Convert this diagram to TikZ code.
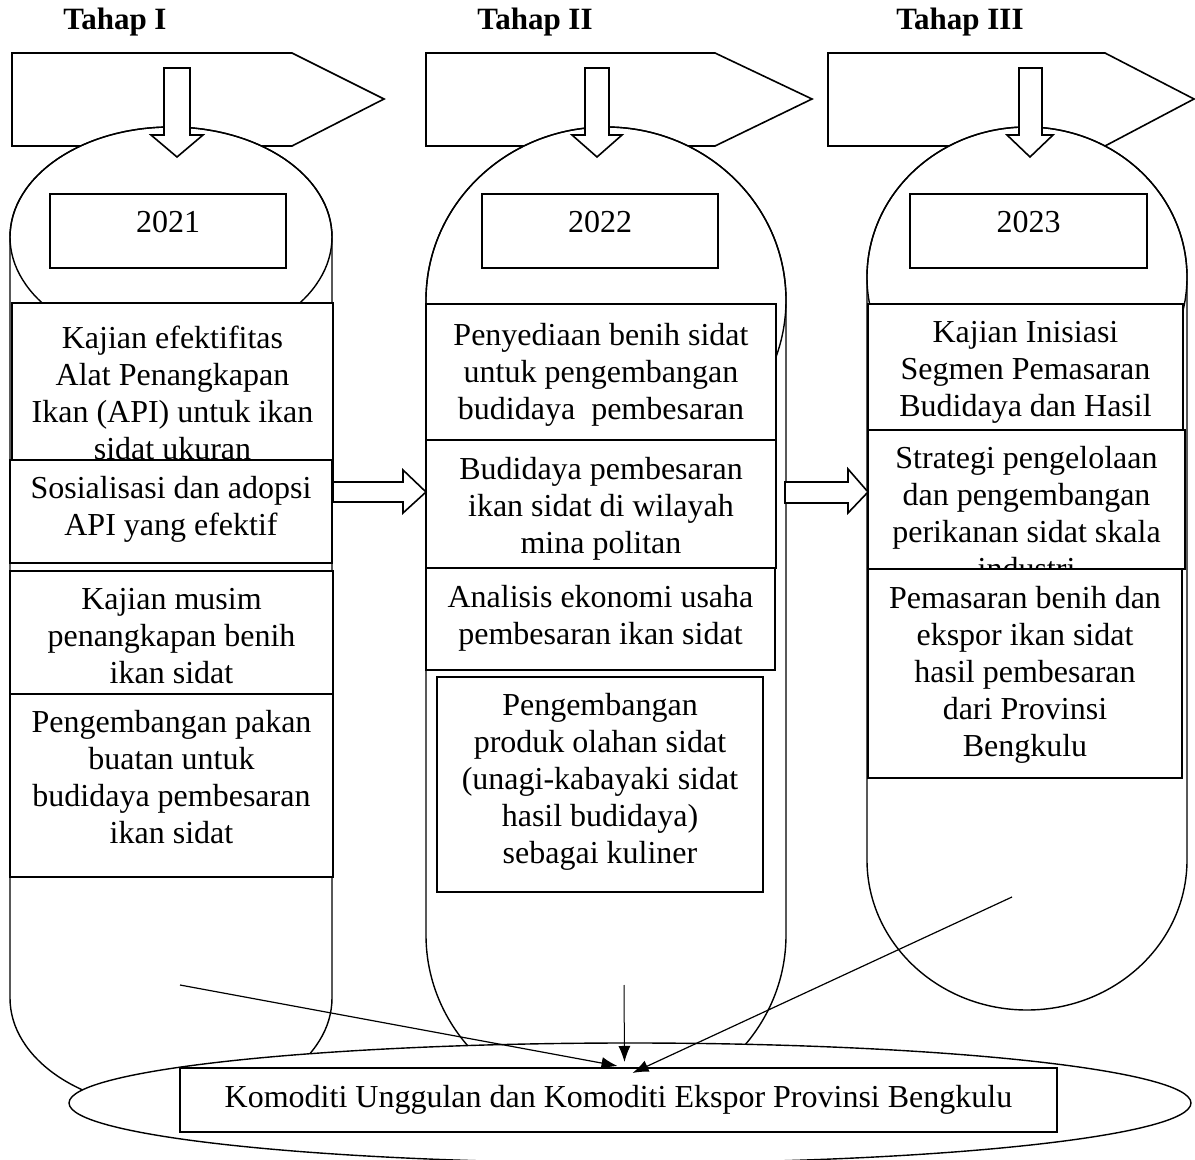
\documentclass[tikz,border=0pt]{standalone}
\usepackage{fontspec}
\setmainfont{Liberation Serif}
\usetikzlibrary{arrows.meta, calc}

\tikzset{
  kotak/.style={draw, fill=white, line width=0.8pt},
  kolom/.style={draw, fill=white, line width=0.7pt},
  isi/.style={align=center, font=\fontsize{16}{18.5}\selectfont},
  judul/.style={font=\fontsize{15.5}{18}\selectfont\bfseries},
  panahblok/.style={draw, fill=white, line width=0.8pt},
  panah/.style={-{Latex[length=8pt,width=6pt]}, line width=0.6pt}
}

\begin{document}
\begin{tikzpicture}[x=0.5pt, y=-0.5pt]
          \useasboundingbox (0,0) rectangle (1195,1160);

          \node[judul] (h1) at (115,22) {Tahap I};
          \node[judul] (h2) at (535,22) {Tahap II};
          \node[judul] (h3) at (960,22) {Tahap III};

          \draw[kotak] (12,53) -- (292,53) -- (384,99) -- (292,146) -- (12,146) -- cycle;
          \draw[kotak] (426,53) -- (715,53) -- (812,99) -- (715,146) -- (426,146) -- cycle;
          \draw[kotak] (828,53) -- (1105,53) -- (1194,99) -- (1105,146) -- (828,146) -- cycle;

          % kolom tahap
          \draw[kolom] (10,237) arc[start angle=180, end angle=360, x radius=161, y radius=110]
            -- (332,998) arc[start angle=0, end angle=180, x radius=161, y radius=110] -- cycle;
          \draw[kolom, fill=none] (171,237) ellipse [x radius=161, y radius=110];

          \draw[kolom] (426,300) arc[start angle=180, end angle=360, x radius=180, y radius=173]
            -- (786,935) arc[start angle=0, end angle=180, x radius=180, y radius=173] -- cycle;
          \draw[kolom, fill=none] (606,300) ellipse [x radius=180, y radius=173];

          \draw[kolom] (867,277) arc[start angle=180, end angle=360, x radius=160, y radius=150]
            -- (1187,860) arc[start angle=0, end angle=180, x radius=160, y radius=150] -- cycle;
          \draw[kolom, fill=none] (1027,277) ellipse [x radius=160, y radius=150];

          \draw[kotak] (50,194) rectangle (286,268) node[midway, isi, yshift=4.5pt] (y1) {2021};
          \draw[kotak] (482,194) rectangle (718,268) node[midway, isi, yshift=4.5pt] (y2) {2022};
          \draw[kotak] (910,194) rectangle (1147,268) node[midway, isi, yshift=4.5pt] (y3) {2023};

          \draw[kotak] (12,303) rectangle (333,483) node[midway, isi] (k1a)
            {Kajian efektifitas\\Alat Penangkapan\\Ikan (API) untuk ikan\\sidat ukuran};
          \draw[kotak] (10,460) rectangle (332,563) node[midway, isi, yshift=1pt] (k1b)
            {Sosialisasi dan adopsi\\API yang efektif};
          \draw[kotak] (10,571) rectangle (333,694) node[midway, isi, yshift=-1.75pt] (k1c)
            {Kajian musim\\penangkapan benih\\ikan sidat};
          \draw[kotak] (10,694) rectangle (333,877) node[midway, isi, yshift=4pt] (k1d)
            {Pengembangan pakan\\buatan untuk\\budidaya pembesaran\\ikan sidat};

          \draw[kotak] (426,304) rectangle (776,440) node[midway, isi, yshift=-1.5pt] (k2a)
            {Penyediaan benih sidat\\untuk pengembangan\\budidaya\ \ pembesaran};
          \draw[kotak] (426,440) rectangle (776,568) node[midway, isi, yshift=-2.5pt] (k2b)
            {Budidaya pembesaran\\ikan sidat di wilayah\\mina politan};
          \draw[kotak] (426,568) rectangle (775,670) node[midway, isi, yshift=0.5pt] (k2c)
            {Analisis ekonomi usaha\\pembesaran ikan sidat};
          \draw[kotak] (437,677) rectangle (763,892) node[midway, isi, yshift=1.25pt] (k2d)
            {Pengembangan\\produk olahan sidat\\(unagi-kabayaki sidat\\hasil budidaya)\\sebagai kuliner};

          \draw[kotak] (868,304) rectangle (1183,430) node[midway, isi, yshift=-2.5pt] (k3a)
            {Kajian Inisiasi\\Segmen Pemasaran\\Budidaya dan Hasil};
          \draw[kotak] (868,430) rectangle (1185,569) node[midway, isi, yshift=-6.75pt] (k3b)
            {Strategi pengelolaan\\dan pengembangan\\perikanan sidat skala\\industri};
          \draw[kotak] (868,569) rectangle (1182,778) node[midway, isi, yshift=-0.75pt] (k3c)
            {Pemasaran benih dan\\ekspor ikan sidat\\hasil pembesaran\\dari Provinsi\\Bengkulu};

          % panah blok
          \draw[panahblok] (164,68) -- (190,68) -- (190,135) -- (203,135) -- (177,157) -- (151,135) -- (164,135) -- cycle;
          \draw[panahblok] (585,68) -- (609,68) -- (609,135) -- (622,135) -- (597,157) -- (572,135) -- (585,135) -- cycle;
          \draw[panahblok] (1019,68) -- (1042,68) -- (1042,135) -- (1053,135) -- (1030,157) -- (1007,135) -- (1019,135) -- cycle;

          \draw[panahblok] (333,482) -- (403,482) -- (403,470) -- (426,492) -- (403,513) -- (403,502) -- (333,502) -- cycle;
          \draw[panahblok] (785,482) -- (848,482) -- (848,469) -- (868,492) -- (848,513) -- (848,503) -- (785,503) -- cycle;

          \draw[kolom] (630,1103) ellipse [x radius=561, y radius=60];
          \draw[kotak] (180,1068) rectangle (1057,1132) node[midway, isi] (kom)
            {Komoditi Unggulan dan Komoditi Ekspor Provinsi Bengkulu};

          \coordinate (a1) at (180,985);
          \coordinate (a2) at (624,985);
          \coordinate (a3) at (1012,897);
          \coordinate (t1) at ($(kom.north)+(-1,-12)$);
          \coordinate (t2) at ($(kom.north)+(6,-16)$);
          \coordinate (t3) at ($(kom.north)+(14,-5)$);
          \draw[panah] (a1) -- (t1);
          \draw[panah, line width=0.5pt] (a2) -- (t2);
          \draw[panah] (a3) -- (t3);
        \end{tikzpicture}
\end{document}
